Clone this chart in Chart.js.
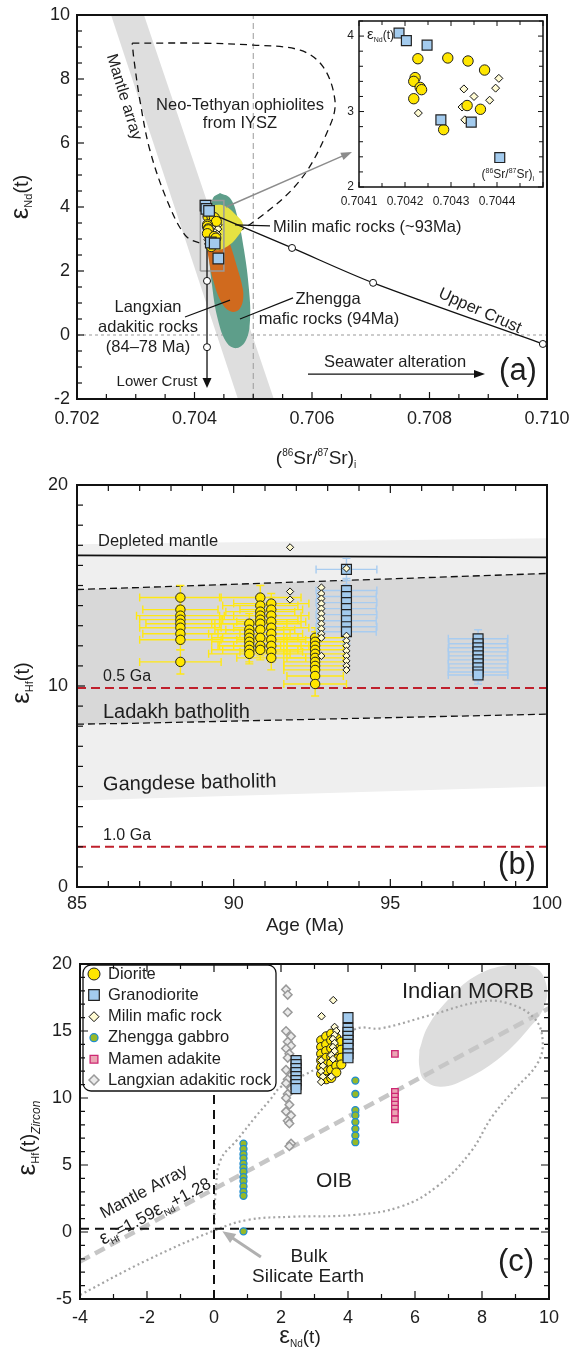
<!DOCTYPE html>
<html>
<head>
<meta charset="utf-8">
<script src="https://cdn.jsdelivr.net/npm/chart.js@4.4.1/dist/chart.umd.min.js"></script>
<style>
body{margin:0;background:#fff;width:570px;height:1347px;position:relative;overflow:hidden}
canvas{position:absolute;left:0}
</style>
</head>
<body>
<canvas id="chartA" width="570" height="470" style="top:0"></canvas>
<canvas id="inset" width="230" height="215" style="top:0;left:330px"></canvas>
<canvas id="chartB" width="570" height="470" style="top:470px"></canvas>
<canvas id="chartC" width="570" height="407" style="top:940px"></canvas>
<script>
// ---------- (a) Sr-Nd isotopes ----------
var srGrano = [0.704187, 0.704203, 0.704248, 0.704278, 0.704344, 0.704406];
var ndGrano = [4.04, 3.94, 3.88, 2.89, 2.86, 2.39];
var srDiorite = [0.704228, 0.704293, 0.704337, 0.704373, 0.704222, 0.704219, 0.704233, 0.704236, 0.704219, 0.704335, 0.704364, 0.704284];
var ndDiorite = [3.70, 3.71, 3.67, 3.55, 3.45, 3.40, 3.32, 3.29, 3.17, 3.08, 3.03, 2.76];
var srMilin = [0.704404, 0.704328, 0.704397, 0.704350, 0.704384, 0.704324, 0.704330, 0.704238, 0.704229];
var ndMilin = [3.44, 3.30, 3.31, 3.20, 3.15, 3.06, 2.89, 3.28, 2.98];

var mantleBandSr = [0.70258, 0.70314, 0.70535, 0.70474, 0.70258];
var mantleBandNd = [10, 10, -2, -2, 10];
var ophioliteSr = [0.70294, 0.70409, 0.70500, 0.70580, 0.70619, 0.70639, 0.70631, 0.70580, 0.70500, 0.70435, 0.70409, 0.70384, 0.70353, 0.70324, 0.70307, 0.70297, 0.70294];
var ophioliteNd = [9.12, 9.12, 9.06, 8.90, 8.38, 7.34, 6.56, 4.84, 3.53, 2.88, 2.88, 3.12, 4.22, 5.78, 7.34, 8.60, 9.12];
var zhenggaSr = [0.704434, 0.704604, 0.704723, 0.704843, 0.704928, 0.704945, 0.704877, 0.704723, 0.704553, 0.704400, 0.704298, 0.704247, 0.704264, 0.704315, 0.704434];
var zhenggaNd = [4.44, 4.28, 3.75, 2.66, 1.41, 0.47, -0.16, -0.41, -0.25, 0.47, 1.56, 2.66, 3.75, 4.28, 4.44];
var langxianSr = [0.704230, 0.704490, 0.704630, 0.704720, 0.704800, 0.704830, 0.704760, 0.704610, 0.704450, 0.704320, 0.704240, 0.704200, 0.704230];
var langxianNd = [3.34, 3.41, 2.70, 2.15, 1.63, 1.17, 0.80, 0.74, 1.05, 1.70, 2.41, 2.97, 3.34];
var milinFieldSr = [0.704179, 0.704468, 0.704706, 0.704826, 0.704740, 0.704570, 0.704366, 0.704196, 0.704179];
var milinFieldNd = [3.97, 4.06, 3.75, 3.44, 3.09, 2.78, 2.66, 2.97, 3.97];
var insetBoxSr = [0.7041, 0.7045, 0.7045, 0.7041, 0.7041];
var insetBoxNd = [2, 2, 4.2, 4.2, 2];
var lowerCrustSr = [0.704213, 0.704213];
var lowerCrustNd = [3.85, -1.45];
var upperCrustSr = [0.704213, 0.70566, 0.70704, 0.70993];
var upperCrustNd = [3.85, 2.72, 1.63, -0.28];
var mixSr = [0.704213, 0.704213, 0.70566, 0.70704, 0.70993];
var mixNd = [1.69, -0.38, 2.72, 1.63, -0.28];

var ticksSrA = [0.702, 0.704, 0.706, 0.708, 0.710];
var ticksNdA = [-2, 0, 2, 4, 6, 8, 10];
var ticksSrIn = [0.7041, 0.7042, 0.7043, 0.7044];
var ticksNdIn = [2, 3, 4];

// ---------- (b) age vs eHf ----------
var ageDiorite = [88.3,88.3,88.3,88.3,88.3,88.3,88.3,88.3,88.3, 90.5,90.5,90.5,90.5,90.5,90.5,90.5,90.5,
  90.85,90.85,90.85,90.85,90.85,90.85,90.85,90.85,90.85,90.85, 91.2,91.2,91.2,91.2,91.2,91.2,91.2,91.2,91.2,91.2,
  92.6,92.6,92.6,92.6,92.6,92.6,92.6,92.6,92.6,92.6,92.6];
var hfDiorite = [14.4,13.8,13.5,13.3,13.1,12.9,12.6,12.3,11.2, 13.1,12.8,12.6,12.4,12.2,12.0,11.8,11.6,
  14.4,14.0,13.7,13.5,13.3,13.1,12.8,12.4,12.0,11.8, 14.1,13.8,13.5,13.2,12.9,12.6,12.3,12.0,11.7,11.4,
  12.4,12.2,12.0,11.8,11.6,11.4,11.2,11.0,10.8,10.5,10.1];
var ageErrDiorite = [1.3,1.2,1.4,1.3,1.1,1.3,1.2,1.3,1.3, 1.2,1.1,1.3,1.2,1.2,1.0,1.2,1.3,
  1.3,1.2,1.1,1.3,1.2,1.3,1.1,1.2,1.3,1.2, 1.2,1.0,1.2,1.1,1.2,1.0,1.1,1.2,1.0,1.1,
  1.0,1.0,0.9,1.0,1.0,0.9,1.0,1.0,1.0,0.9,1.0];
var hfErrDiorite = [0.6,0.5,0.5,0.5,0.6,0.5,0.5,0.5,0.6, 0.5,0.5,0.6,0.5,0.5,0.5,0.6,0.5,
  0.6,0.5,0.5,0.6,0.5,0.5,0.5,0.6,0.5,0.5, 0.5,0.6,0.5,0.5,0.5,0.6,0.5,0.5,0.5,0.6,
  0.5,0.5,0.5,0.6,0.5,0.5,0.5,0.5,0.6,0.5,0.6];
var ageMilinB = [91.8,91.8,91.8, 92.8,92.8,92.8,92.8,92.8,92.8,92.8,92.8,92.8,92.8,92.8,92.8,
  93.6, 93.6,93.6,93.6,93.6,93.6,93.6,93.6,93.6];
var hfMilinB = [16.9,14.7,14.3, 14.9,14.6,14.35,14.1,13.85,13.6,13.35,13.1,12.85,12.6,12.4,11.5,
  15.85, 12.5,12.25,12.0,11.75,11.5,11.25,11.0,10.8];
var ageGranoB = [93.6,93.6,93.6,93.6,93.6,93.6,93.6,93.6,93.6, 97.8,97.8,97.8,97.8,97.8,97.8,97.8,97.8,97.8,97.8];
var hfGranoB = [15.8,14.75,14.45,14.15,13.85,13.55,13.25,12.95,12.7, 12.35,12.1,11.9,11.7,11.5,11.3,11.1,10.9,10.7,10.55];
var ageErrGranoB = [0.97,0.97,0.95,0.97,0.95,0.97,0.95,0.97,0.95, 0.95,0.93,0.95,0.95,0.93,0.95,0.95,0.93,0.95,0.95];
var hfErrGranoB = [0.55,0.6,0.6,0.55,0.6,0.6,0.55,0.6,0.6, 0.45,0.45,0.45,0.45,0.45,0.45,0.45,0.45,0.45,0.45];

var gangTopAge = [85, 100], gangTopHf = [17.05, 17.35];
var gangBotAge = [85, 100], gangBotHf = [4.3, 5.0];
var ladakhTopAge = [85, 87, 100], ladakhTopHf = [14.8, 14.9, 15.6];
var ladakhBotAge = [85, 87, 100], ladakhBotHf = [8.1, 8.15, 8.6];
var depletedAge = [85, 100], depletedHf = [16.5, 16.4];
var crust05Hf = 9.9, crust10Hf = 2.0;

var ticksAge = [85, 90, 95, 100];
var ticksHfB = [0, 10, 20];

// ---------- (c) eNd vs eHf ----------
var ndDioriteC = [3.2,3.2,3.2,3.2,3.2,3.2, 3.35,3.35,3.35,3.35,3.35,3.35,3.35, 3.5,3.5,3.5,3.5,3.5,3.5,3.5, 3.65,3.65,3.65,3.65,3.65,3.65, 3.8,3.8,3.8,3.8];
var hfDioriteC = [14.3,13.8,13.3,12.8,12.3,11.8, 14.6,14.0,13.5,13.0,12.5,12.0,11.4, 14.8,14.3,13.7,13.1,12.6,12.1,11.5, 14.5,14.0,13.4,12.9,12.4,11.9, 14.2,13.6,13.0,12.5];
var ndGranoC = [2.45,2.45,2.45,2.45,2.45,2.45,2.45,2.45, 4.0,4.0,4.0,4.0,4.0,4.0,4.0,4.0,4.0];
var hfGranoC = [12.8,12.5,12.2,11.9,11.6,11.3,11.0,10.7, 16.0,15.2,14.9,14.6,14.3,14.0,13.7,13.3,13.0];
var ndMilinC = [3.56,3.21,3.6,3.65,3.6,3.55,3.6,3.55,3.6,3.5,3.55,3.2,3.25,3.2,3.25,3.2,3.5];
var hfMilinC = [17.3,16.1,15.3,15.0,14.7,14.4,14.1,13.8,13.5,13.2,12.9,12.8,12.4,12.0,11.6,11.2,11.6];
var ndZhengga = [0.88,0.88,0.88,0.88,0.88,0.88,0.88,0.88,0.88,0.88,0.88,0.88,0.88, 4.22,4.22,4.22,4.22,4.22,4.22,4.22,4.22];
var hfZhengga = [6.6,6.2,5.8,5.5,5.1,4.8,4.5,4.1,3.8,3.4,3.0,2.7,0.05, 11.3,10.3,9.1,8.7,8.2,7.7,7.2,6.7];
var ndMamen = [5.4,5.4,5.4,5.4,5.4,5.4,5.4,5.4];
var hfMamen = [13.3,10.45,10.1,9.8,9.5,9.2,8.9,8.4];
var ndLangxian = [2.15,2.2,2.2,2.15,2.3,2.2,2.3,2.15,2.25,2.2,2.15,2.3,2.2,2.15,2.3,2.2,2.15,2.25,2.15,2.3,2.2,2.25,2.3,2.25];
var hfLangxian = [18.1,17.7,16.4,15.0,14.6,14.2,13.9,13.7,13.3,13.0,12.1,11.7,11.4,11.1,10.7,10.3,10.0,9.5,9.0,8.7,8.3,8.1,6.6,6.4];

var morbNd = [6.13,6.38,6.98,7.77,8.77,9.56,9.91,9.86,9.36,8.57,7.57,6.78,6.28,6.13,6.13];
var morbHf = [13.58,15.32,17.31,19.05,19.93,19.8,18.56,16.82,15.07,13.08,11.47,10.84,11.34,12.34,13.58];
var oibNd = [-4,-2,0,1.0,2.33,4.17,5.58,6.66,7.64,8.3,8.96,9.66,9.81,9.56,8.77,7.97,6.48,4.99,4.19,3.19,2.0,1.67,1.24,0.7,0.2,0.05,0];
var oibHf = [-4.7,-2.1,0.1,0.9,1.14,1.27,1.9,3.4,5.9,8.6,10.6,12.6,14.3,15.95,17.07,17.2,16.2,15.2,15.1,12.46,10.84,9.85,8.6,6.9,5.4,3.0,0.1];
var mantleArrayNd = [-4, 10], mantleArrayHf = [-2.2, 16.7];

var ticksNdC = [-4, -2, 0, 2, 4, 6, 8, 10];
var ticksHfC = [-5, 0, 5, 10, 15, 20];

// ---------- helpers ----------
var FONT = '"Liberation Sans", Arial, Helvetica, sans-serif';
Chart.defaults.font.family = FONT;
Chart.defaults.color = '#222';
Chart.defaults.animation = false;

function xy(xs, ys) { return xs.map(function (x, i) { return {x: x, y: ys[i]}; }); }
function fnt(s, it) { return (it ? 'italic ' : '') + s + 'px ' + FONT; }

function axis(min, max, ticks, fmt, size, pad, box) {
  return {
    type: 'linear', min: min, max: max,
    grid: {display: false, drawTicks: false},
    border: {display: false},
    afterBuildTicks: function (s) { s.ticks = ticks.map(function (v) { return {value: v}; }); },
    afterFit: function (s) {
      if (box.w) s.width = box.w;
      if (box.h) s.height = box.h;
      s.paddingLeft = s.paddingRight = s.paddingTop = s.paddingBottom = 0;
    },
    ticks: {font: {size: size}, color: '#1e1e1e', padding: pad, autoSkip: false, maxRotation: 0, minRotation: 0, callback: fmt}
  };
}

function lineDs(data, o) {
  return Object.assign({data: data, showLine: true, pointRadius: 0, borderWidth: 1.3, borderColor: '#111', fill: false, tension: 0}, o);
}
function polyDs(data, color, o) {
  return Object.assign({data: data, showLine: true, pointRadius: 0, fill: 'shape', backgroundColor: color, borderColor: 'transparent', borderWidth: 0, tension: 0.4}, o);
}
function ptDs(label, data, style, r, bg, bc, bw, o) {
  return Object.assign({label: label, data: data, showLine: false, pointStyle: style, pointRadius: r,
    pointBackgroundColor: bg, pointBorderColor: bc, pointBorderWidth: bw, backgroundColor: bg, borderColor: bc, borderWidth: bw}, o);
}

function seg(ctx, a, b, color, w, dash) {
  ctx.save(); ctx.strokeStyle = color; ctx.lineWidth = w; ctx.setLineDash(dash || []);
  ctx.beginPath(); ctx.moveTo(a[0], a[1]); ctx.lineTo(b[0], b[1]); ctx.stroke(); ctx.restore();
}
function head(ctx, a, b, color, len, wid) {
  var ang = Math.atan2(b[1] - a[1], b[0] - a[0]);
  ctx.save(); ctx.fillStyle = color; ctx.translate(b[0], b[1]); ctx.rotate(ang);
  ctx.beginPath(); ctx.moveTo(0, 0); ctx.lineTo(-len, wid / 2); ctx.lineTo(-len, -wid / 2); ctx.closePath(); ctx.fill();
  ctx.restore();
}
function arrow(ctx, a, b, color, w, len, wid) {
  var ang = Math.atan2(b[1] - a[1], b[0] - a[0]);
  seg(ctx, a, [b[0] - Math.cos(ang) * len * 0.8, b[1] - Math.sin(ang) * len * 0.8], color, w);
  head(ctx, a, b, color, len, wid);
}
function txt(ctx, s, x, y, size, align, rot) {
  ctx.save(); ctx.translate(x, y); ctx.rotate(rot || 0);
  ctx.font = fnt(size); ctx.fillStyle = '#1e1e1e'; ctx.textAlign = align || 'center'; ctx.textBaseline = 'middle';
  ctx.fillText(s, 0, 0); ctx.restore();
}
// parts: [text, size, dy, italic]
function rich(ctx, parts, x, y, rot, align) {
  ctx.save(); ctx.translate(x, y); ctx.rotate(rot || 0);
  ctx.fillStyle = '#1e1e1e'; ctx.textBaseline = 'alphabetic';
  var w = 0, big = 0;
  parts.forEach(function (p) { ctx.font = fnt(p[1], p[3]); w += ctx.measureText(p[0]).width; big = Math.max(big, p[1]); });
  var cx = align === 'left' ? 0 : align === 'right' ? -w : -w / 2;
  var base = big * 0.3;
  parts.forEach(function (p) {
    ctx.font = fnt(p[1], p[3]); ctx.fillText(p[0], cx, base + (p[2] || 0)); cx += ctx.measureText(p[0]).width;
  });
  ctx.restore();
}
function marker(ctx, style, x, y, r, bg, bc, bw) {
  ctx.save(); ctx.fillStyle = bg; ctx.strokeStyle = bc; ctx.lineWidth = bw; ctx.beginPath();
  if (style === 'circle') ctx.arc(x, y, r, 0, 2 * Math.PI);
  else if (style === 'rect') { var h = r * Math.SQRT1_2; ctx.rect(x - h, y - h, 2 * h, 2 * h); }
  else { ctx.moveTo(x - r, y); ctx.lineTo(x, y - r); ctx.lineTo(x + r, y); ctx.lineTo(x, y + r); ctx.closePath(); }
  ctx.fill(); ctx.stroke(); ctx.restore();
}

// inward ticks + frame
function frame(opt) {
  return {
    id: 'frame',
    beforeDraw: function (chart) {
      if (!opt.bg) return;
      var a = chart.chartArea, ctx = chart.ctx;
      ctx.save(); ctx.fillStyle = opt.bg; ctx.fillRect(a.left, a.top, a.right - a.left, a.bottom - a.top); ctx.restore();
    },
    afterDraw: function (chart) {
      var ctx = chart.ctx, a = chart.chartArea;
      ctx.save(); ctx.strokeStyle = '#111'; ctx.lineWidth = opt.tickW || 1.2;
      function run(sc, step, major, sides) {
        var n = Math.round((sc.max - sc.min) / step);
        for (var i = 0; i <= n; i++) {
          var v = sc.min + i * step;
          var isMaj = Math.abs(v / major - Math.round(v / major)) < 1e-6;
          var len = isMaj ? opt.major : opt.minor;
          var p = sc.getPixelForValue(v);
          ctx.beginPath();
          sides.forEach(function (s) {
            if (s === 'bottom') { ctx.moveTo(p, a.bottom); ctx.lineTo(p, a.bottom - len); }
            if (s === 'top') { ctx.moveTo(p, a.top); ctx.lineTo(p, a.top + len); }
            if (s === 'left') { ctx.moveTo(a.left, p); ctx.lineTo(a.left + len, p); }
            if (s === 'right') { ctx.moveTo(a.right, p); ctx.lineTo(a.right - len, p); }
          });
          ctx.stroke();
        }
      }
      run(chart.scales.x, opt.x[0], opt.x[1], opt.x[2]);
      run(chart.scales.y, opt.y[0], opt.y[1], opt.y[2]);
      ctx.lineWidth = opt.frameW;
      ctx.strokeRect(a.left, a.top, a.right - a.left, a.bottom - a.top);
      ctx.restore();
    }
  };
}

var baseOpts = function (pad, sx, sy) {
  return {
    responsive: false, animation: false, events: [],
    layout: {padding: pad},
    plugins: {legend: {display: false}, tooltip: {enabled: false}},
    scales: {x: sx, y: sy}
  };
};

// ---------- chart (a) ----------
var annA = {
  id: 'annA',
  afterDatasetsDraw: function (chart) {
    var ctx = chart.ctx;
    var P = function (x, y) { return [chart.scales.x.getPixelForValue(x), chart.scales.y.getPixelForValue(y)]; };
    seg(ctx, P(0.704689, 3.44), P(0.705285, 3.41), '#111', 1.1);
    seg(ctx, P(0.703838, 0.56), P(0.704604, 1.09), '#111', 1.1);
    seg(ctx, P(0.704774, 0.50), P(0.705677, 1.16), '#111', 1.1);
    arrow(ctx, P(0.704536, 4.0), P(0.706681, 5.72), '#8c8c8c', 1.4, 11, 8);
    arrow(ctx, P(0.705932, -1.22), P(0.708945, -1.22), '#111', 1.3, 11, 8);
    head(ctx, P(0.704213, -1.3), P(0.704213, -1.66), '#111', 10, 9);

    txt(ctx, 'Mantle array', 124, 97, 16, 'center', 73 * Math.PI / 180);
    txt(ctx, 'Neo-Tethyan ophiolites', 240, 105, 16.5);
    txt(ctx, 'from IYSZ', 240, 123, 16.5);
    txt(ctx, 'Milin mafic rocks (~93Ma)', 273, 227, 16.5, 'left');
    txt(ctx, 'Langxian', 148, 307, 16.5);
    txt(ctx, 'adakitic rocks', 148, 327, 16.5);
    txt(ctx, '(84\u201378 Ma)', 148, 347, 16.5);
    txt(ctx, 'Zhengga', 328, 299, 16.5);
    txt(ctx, 'mafic rocks (94Ma)', 329, 319, 16.5);
    txt(ctx, 'Upper Crust', 480, 311, 16.5, 'center', 24 * Math.PI / 180);
    txt(ctx, 'Seawater alteration', 395, 362, 16.5);
    txt(ctx, '(a)', 518, 371, 31);
    txt(ctx, 'Lower Crust', 157, 382, 15);

    rich(ctx, [['\u03b5', 26, 0], ['Nd', 11, 4], ['(t)', 20, 0]], 20, 197, -Math.PI / 2);
    rich(ctx, [['(', 19, 0], ['86', 10, -8], ['Sr/', 19, 0], ['87', 10, -8], ['Sr)', 19, 0], ['i', 10, 4]], 316, 458, 0);
  }
};

new Chart('chartA', {
  type: 'scatter',
  data: {datasets: [
    polyDs(xy(mantleBandSr, mantleBandNd), '#dedede', {order: 30, tension: 0}),
    lineDs(xy([0.705, 0.705], [-2, 10]), {borderColor: '#9a9a9a', borderWidth: 1, borderDash: [6, 4], order: 29}),
    lineDs(xy([0.702, 0.710], [0, 0]), {borderColor: '#9a9a9a', borderWidth: 1, borderDash: [3, 3], order: 29}),
    lineDs(xy(ophioliteSr, ophioliteNd), {borderDash: [7, 5], tension: 0.35, order: 28}),
    polyDs(xy(zhenggaSr, zhenggaNd), 'rgb(94,158,138)', {order: 27}),
    polyDs(xy(langxianSr, langxianNd), 'rgb(208,106,30)', {order: 26}),
    polyDs(xy(milinFieldSr, milinFieldNd), 'rgb(230,226,66)', {order: 25}),
    lineDs(xy(insetBoxSr, insetBoxNd), {borderColor: '#9a9a9a', borderWidth: 1.5, order: 24}),
    lineDs(xy(lowerCrustSr, lowerCrustNd), {order: 23}),
    lineDs(xy(upperCrustSr, upperCrustNd), {tension: 0.3, order: 23}),
    ptDs('mix', xy(mixSr, mixNd), 'circle', 3.5, '#fff', '#111', 1, {order: 22}),
    ptDs('Milin', xy(srMilin, ndMilin), 'rectRot', 4, '#fffbd2', '#111', 1, {order: 3}),
    ptDs('Diorite', xy(srDiorite, ndDiorite), 'circle', 5, '#ffe600', '#222', 1, {order: 2}),
    ptDs('Granodiorite', xy(srGrano, ndGrano), 'rect', 7.5, '#a3cbee', '#222', 1.2, {order: 1})
  ]},
  options: baseOpts({left: 0, right: 23, top: 15, bottom: 0},
    axis(0.702, 0.710, ticksSrA, function (v) { return v.toFixed(3); }, 18, 9, {h: 71}),
    axis(-2, 10, ticksNdA, function (v) { return String(v); }, 18, 7, {w: 77})),
  plugins: [annA, frame({x: [0.0005, 0.002, ['bottom']], y: [0.5, 2, ['left']], minor: 5, major: 7, frameW: 2})]
});

// ---------- inset ----------
var annIn = {
  id: 'annIn',
  afterDatasetsDraw: function (chart) {
    var ctx = chart.ctx;
    rich(ctx, [['\u03b5', 15, 0], ['Nd', 7, 3], ['(t)', 12, 0]], 37, 34, 0, 'left');
    rich(ctx, [['(', 12, 0], ['86', 7, -5], ['Sr/', 12, 0], ['87', 7, -5], ['Sr)', 12, 0], ['i', 7, 3]], 204, 174, 0, 'right');
  }
};
new Chart('inset', {
  type: 'scatter',
  data: {datasets: [
    ptDs('Milin', xy(srMilin, ndMilin), 'rectRot', 4, '#fffbd2', '#111', 1, {order: 3}),
    ptDs('Diorite', xy(srDiorite, ndDiorite), 'circle', 5.2, '#ffe600', '#222', 1, {order: 2}),
    ptDs('Granodiorite', xy(srGrano, ndGrano), 'rect', 7, '#a3cbee', '#222', 1.2, {order: 1})
  ]},
  options: baseOpts({left: 0, right: 17, top: 21, bottom: 0},
    axis(0.7041, 0.7045, ticksSrIn, function (v) { return v.toFixed(4); }, 12, 7, {h: 28}),
    axis(2, 4.2, ticksNdIn, function (v) { return String(v); }, 12, 5, {w: 29})),
  plugins: [annIn, frame({bg: '#fff', x: [0.00005, 0.0001, ['bottom', 'top']], y: [0.2, 1, ['left', 'right']], minor: 4, major: 5, frameW: 1.5, tickW: 1})]
});

// ---------- chart (b) ----------
var errorBars = {
  id: 'errorBars',
  beforeDatasetDraw: function (chart, args) {
    var d = chart.data.datasets[args.index];
    if (!d.errX) return;
    var ctx = chart.ctx, sx = chart.scales.x, sy = chart.scales.y, a = chart.chartArea;
    ctx.save();
    ctx.beginPath(); ctx.rect(a.left, a.top, a.right - a.left, a.bottom - a.top); ctx.clip();
    ctx.strokeStyle = d.errColor; ctx.lineWidth = 1.4;
    d.data.forEach(function (p, i) {
      var x = sx.getPixelForValue(p.x), y = sy.getPixelForValue(p.y);
      var x0 = sx.getPixelForValue(p.x - d.errX[i]), x1 = sx.getPixelForValue(p.x + d.errX[i]);
      var y0 = sy.getPixelForValue(p.y - d.errY[i]), y1 = sy.getPixelForValue(p.y + d.errY[i]);
      ctx.beginPath();
      ctx.moveTo(x0, y); ctx.lineTo(x1, y);
      ctx.moveTo(x0, y - 4); ctx.lineTo(x0, y + 4); ctx.moveTo(x1, y - 4); ctx.lineTo(x1, y + 4);
      ctx.moveTo(x, y0); ctx.lineTo(x, y1);
      ctx.moveTo(x - 4, y0); ctx.lineTo(x + 4, y0); ctx.moveTo(x - 4, y1); ctx.lineTo(x + 4, y1);
      ctx.stroke();
    });
    ctx.restore();
  }
};
var annB = {
  id: 'annB',
  afterDatasetsDraw: function (chart) {
    var ctx = chart.ctx;
    txt(ctx, 'Depleted mantle', 98, 71, 16.5, 'left');
    txt(ctx, '0.5 Ga', 103, 207, 16, 'left');
    txt(ctx, 'Ladakh batholith', 103, 242, 20, 'left');
    txt(ctx, 'Gangdese batholith', 103, 315, 20, 'left', -0.02);
    txt(ctx, '1.0 Ga', 103, 366, 16, 'left');
    txt(ctx, '(b)', 517, 395, 31);
    txt(ctx, 'Age (Ma)', 305, 456, 19);
    rich(ctx, [['\u03b5', 26, 0], ['Hf', 11, 4], ['(t)', 20, 0]], 21, 213, -Math.PI / 2);
  }
};
new Chart('chartB', {
  type: 'scatter',
  data: {datasets: [
    lineDs(xy(gangTopAge, gangTopHf), {borderColor: 'transparent', fill: 1, backgroundColor: '#efefef', order: 30}),
    lineDs(xy(gangBotAge, gangBotHf), {borderColor: 'transparent', order: 30}),
    lineDs(xy(ladakhTopAge, ladakhTopHf), {borderDash: [7, 4], fill: 3, backgroundColor: '#d8d8d8', order: 29.5}),
    lineDs(xy(ladakhBotAge, ladakhBotHf), {borderDash: [7, 4], order: 29}),
    lineDs(xy(depletedAge, depletedHf), {borderWidth: 1.6, order: 28}),
    lineDs(xy([85, 100], [crust05Hf, crust05Hf]), {borderColor: 'rgb(192,32,44)', borderWidth: 2, borderDash: [9, 5], order: 28}),
    lineDs(xy([85, 100], [crust10Hf, crust10Hf]), {borderColor: 'rgb(192,32,44)', borderWidth: 2, borderDash: [9, 5], order: 28}),
    ptDs('Diorite', xy(ageDiorite, hfDiorite), 'circle', 4.7, '#ffe600', '#222', 1,
      {order: 3, errX: ageErrDiorite, errY: hfErrDiorite, errColor: 'rgb(255,232,20)'}),
    ptDs('Milin', xy(ageMilinB, hfMilinB), 'rectRot', 3.6, '#fffbd2', '#111', 1, {order: 1}),
    ptDs('Granodiorite', xy(ageGranoB, hfGranoB), 'rect', 7, '#a3cbee', '#222', 1.2,
      {order: 2, errX: ageErrGranoB, errY: hfErrGranoB, errColor: 'rgb(168,204,240)'})
  ]},
  options: baseOpts({left: 0, right: 23, top: 15, bottom: 0},
    axis(85, 100, ticksAge, function (v) { return String(v); }, 18, 6, {h: 53}),
    axis(0, 20, ticksHfB, function (v) { return String(v); }, 18, 9, {w: 77})),
  plugins: [errorBars, annB, frame({x: [1, 5, ['bottom', 'top']], y: [1, 10, ['left']], minor: 6, major: 8, frameW: 2})]
});

// ---------- chart (c) ----------
var legendOrder = ['Diorite', 'Granodiorite', 'Milin mafic rock', 'Zhengga gabbro', 'Mamen adakite', 'Langxian adakitic rock'];
var annC = {
  id: 'annC',
  afterDatasetsDraw: function (chart) {
    var ctx = chart.ctx;
    var P = function (x, y) { return [chart.scales.x.getPixelForValue(x), chart.scales.y.getPixelForValue(y)]; };
    arrow(ctx, P(1.4, -1.87), P(0.25, 0.05), '#b0b0b0', 3, 13, 11);
    txt(ctx, 'Indian MORB', 468, 52, 22);
    txt(ctx, 'OIB', 334, 241, 21);
    txt(ctx, 'Mantle Array', 144, 252, 17, 'center', -28 * Math.PI / 180);
    rich(ctx, [['\u03b5', 19, 0], ['Hf', 9, 4], ['=1.59', 17, 0], ['\u03b5', 19, 0], ['Nd', 9, 4], ['+1.28', 17, 0]], 155, 271, -28 * Math.PI / 180);
    txt(ctx, 'Bulk', 309, 317, 19);
    txt(ctx, 'Silicate Earth', 308, 337, 19);
    txt(ctx, '(c)', 516, 322, 31);
    rich(ctx, [['\u03b5', 26, 0], ['Hf', 11, 4], ['(t)', 20, 0], ['Zircon', 12, 5, true]], 27, 198, -Math.PI / 2);
    rich(ctx, [['\u03b5', 24, 0], ['Nd', 10, 4], ['(t)', 19, 0]], 300, 396, 0);

    // legend box
    var L = 83, T = 25, R = 276, B = 151, rad = 8;
    ctx.save();
    ctx.beginPath();
    ctx.moveTo(L + rad, T); ctx.lineTo(R - rad, T); ctx.arcTo(R, T, R, T + rad, rad);
    ctx.lineTo(R, B - rad); ctx.arcTo(R, B, R - rad, B, rad);
    ctx.lineTo(L + rad, B); ctx.arcTo(L, B, L, B - rad, rad);
    ctx.lineTo(L, T + rad); ctx.arcTo(L, T, L + rad, T, rad); ctx.closePath();
    ctx.fillStyle = '#fff'; ctx.fill(); ctx.strokeStyle = '#111'; ctx.lineWidth = 1.3; ctx.stroke();
    ctx.restore();
    var rowsY = [34, 55, 76.7, 97.7, 119.3, 140];
    legendOrder.forEach(function (name, i) {
      var d = chart.data.datasets.find(function (s) { return s.label === name; });
      marker(ctx, d.pointStyle, 94, rowsY[i], d.legendR, d.pointBackgroundColor, d.pointBorderColor, d.pointBorderWidth);
      txt(ctx, name, 108, rowsY[i], 16.5, 'left');
    });
  }
};
new Chart('chartC', {
  type: 'scatter',
  data: {datasets: [
    polyDs(xy(morbNd, morbHf), '#dddddd', {order: 30}),
    lineDs(xy(oibNd, oibHf), {borderColor: '#a4a4a4', borderWidth: 2.2, borderDash: [2, 3], tension: 0.4, order: 29}),
    lineDs(xy(mantleArrayNd, mantleArrayHf), {borderColor: '#c6c6c6', borderWidth: 4.5, borderDash: [11, 6], order: 29}),
    lineDs(xy([0, 0], [-5, 20]), {borderWidth: 2, borderDash: [9, 6], order: 28}),
    lineDs(xy([-4, 10], [0.25, 0.25]), {borderWidth: 2, borderDash: [9, 6], order: 28}),
    ptDs('Langxian adakitic rock', xy(ndLangxian, hfLangxian), 'rectRot', 4.3, '#ebebeb', '#999', 1.5, {order: 7, legendR: 5}),
    ptDs('Zhengga gabbro', xy(ndZhengga, hfZhengga), 'circle', 3.5, 'rgb(150,185,40)', 'rgb(30,140,210)', 1.3, {order: 6, legendR: 4}),
    ptDs('Mamen adakite', xy(ndMamen, hfMamen), 'rect', 4.6, 'rgb(235,165,180)', 'rgb(205,40,115)', 1.3, {order: 5, legendR: 5.5}),
    ptDs('Diorite', xy(ndDioriteC, hfDioriteC), 'circle', 4.6, '#ffe600', '#222', 1, {order: 4, legendR: 6}),
    ptDs('Milin mafic rock', xy(ndMilinC, hfMilinC), 'rectRot', 3.8, '#fffbd2', '#111', 1, {order: 3, legendR: 5}),
    ptDs('Granodiorite', xy(ndGranoC, hfGranoC), 'rect', 7, '#a3cbee', '#222', 1.2, {order: 2, legendR: 7.5})
  ]},
  options: baseOpts({left: 0, right: 21, top: 24, bottom: 0},
    axis(-4, 10, ticksNdC, function (v) { return String(v); }, 18, 8, {h: 48}),
    axis(-5, 20, ticksHfC, function (v) { return String(v); }, 18, 8, {w: 80})),
  plugins: [annC, frame({x: [1, 2, ['bottom', 'top']], y: [1, 5, ['left', 'right']], minor: 5, major: 8, frameW: 2})]
});
</script>
</body>
</html>
